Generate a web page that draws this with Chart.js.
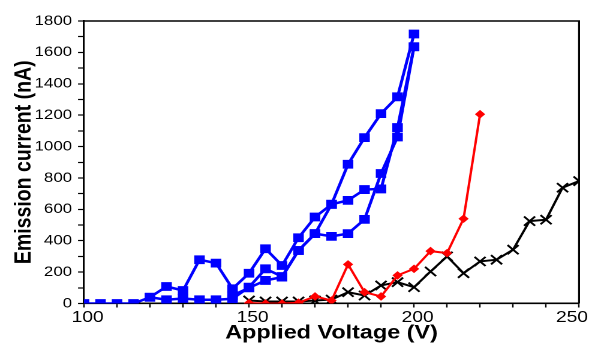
<!DOCTYPE html>
<html>
<head>
<meta charset="utf-8">
<script src="https://cdn.jsdelivr.net/npm/chart.js@4"></script>
<style>
	body { margin: 0; background: #fff; }
</style>
</head>
<body>
<!-- the source picture is stretched sideways by about 1.2, so the chart is drawn
     on a narrower canvas and widened by the inline style -->
<canvas id="emission_chart" width="491" height="346" style="display:block;width:589px;height:346px"></canvas>
<script>
// three blue sweeps (squares)
const blue_voltage_1 = [100, 105, 110, 115, 120, 125, 130, 135, 140, 145, 150, 155, 160, 165, 170, 175, 180, 185, 190, 195, 200]
const blue_current_1 = [0, 0, 0, 0, 40, 108, 83, 279, 257, 94, 193, 349, 242, 419, 551, 632, 657, 726, 730, 1121, 1636]
const blue_voltage_2 = [120, 125, 130, 135, 140, 145, 150, 155, 160, 165, 170, 175, 180, 185, 190, 195, 200]
const blue_current_2 = [40, 24, 32, 24, 24, 30, 104, 221, 172, 338, 445, 632, 887, 1057, 1210, 1317, 1717]
const blue_voltage_3 = [145, 150, 155, 160, 165, 170, 175, 180, 185, 190, 195, 200]
const blue_current_3 = [51, 100, 147, 168, 338, 445, 428, 445, 536, 828, 1061, 1636]

// red (diamonds)
const red_voltage = [150, 155, 160, 165, 170, 175, 180, 185, 190, 195, 200, 205, 210, 215, 220]
const red_current = [3, 0, 0, 5, 45, 19, 249, 72, 45, 179, 221, 334, 321, 540, 1206]

// black (crosses)
const black_voltage = [150, 155, 160, 165, 170, 175, 180, 185, 190, 195, 200, 205, 210, 215, 220, 225, 230, 235, 240, 245, 250]
const black_current = [19, 13, 13, 13, 19, 25, 72, 51, 115, 136, 104, 204, 300, 193, 268, 279, 343, 525, 534, 738, 780]

const x_labels = [100, 150, 200, 250]
const y_labels = [0, 200, 400, 600, 800, 1000, 1200, 1400, 1600, 1800]

const font_family = "'Liberation Sans', Arial, sans-serif"

function to_points(xs, ys) {
	return xs.map((x, i) => ({ x: x, y: ys[i] }))
}

function blue_set(xs, ys) {
	return {
		data: to_points(xs, ys),
		borderColor: '#0000ff',
		backgroundColor: '#0000ff',
		borderWidth: 2.5,
		pointStyle: 'rect',
		pointRadius: 6.2,
		pointBorderWidth: 0,
	}
}

// top and right edge of the box
const frame_plugin = {
	id: 'frame',
	afterDraw(chart) {
		const { ctx, chartArea } = chart
		ctx.save()
		ctx.strokeStyle = '#000'
		ctx.lineWidth = 1.6
		ctx.beginPath()
		ctx.moveTo(chartArea.left, chartArea.top)
		ctx.lineTo(chartArea.right, chartArea.top)
		ctx.lineTo(chartArea.right, chartArea.bottom)
		ctx.stroke()
		ctx.restore()
	},
}

// eslint-disable-next-line
const emission_chart = new Chart(document.getElementById('emission_chart'), {
	type: 'line',
	data: {
		datasets: [
			blue_set(blue_voltage_1, blue_current_1),
			blue_set(blue_voltage_2, blue_current_2),
			blue_set(blue_voltage_3, blue_current_3),
			{
				data: to_points(red_voltage, red_current),
				borderColor: '#ff0000',
				backgroundColor: '#ff0000',
				borderWidth: 2,
				pointStyle: 'rectRot',
				pointRadius: 4.3,
				pointBorderWidth: 0,
			},
			{
				data: to_points(black_voltage, black_current),
				borderColor: '#000',
				backgroundColor: '#000',
				borderWidth: 2,
				pointStyle: 'crossRot',
				pointRadius: 6.5,
				pointBorderWidth: 1.8,
			},
		],
	},
	options: {
		responsive: false,
		animation: false,
		devicePixelRatio: 2,
		layout: { padding: { top: 21, left: 10.4, right: 5.6, bottom: 0 } },
		plugins: {
			legend: { display: false },
			tooltip: { enabled: false },
		},
		scales: {
			x: {
				type: 'linear',
				min: 100,
				max: 250,
				afterFit(scale) {
					scale.paddingLeft = 0
					scale.paddingRight = 0
				},
				border: { color: '#000', width: 1.6 },
				grid: { drawOnChartArea: false, color: '#000', tickLength: 4, tickWidth: 1.2 },
				ticks: {
					stepSize: 10,
					autoSkip: false,
					maxRotation: 0,
					padding: 2,
					labelOffset: 3,
					color: '#000',
					font: { family: font_family, size: 16, lineHeight: 1 },
					callback: (v) => {
						if (!x_labels.includes(v)) return ''
						// last label is pulled inside the picture, as in the source
						return v === 250 ? '250    ' : String(v)
					},
				},
				title: {
					display: true,
					text: 'Applied Voltage (V)',
					color: '#000',
					padding: { top: -4, bottom: 3 },
					font: { family: font_family, size: 19.5, weight: 'bold', lineHeight: 1 },
				},
			},
			y: {
				min: 0,
				max: 1800,
				border: { color: '#000', width: 1.6 },
				grid: { drawOnChartArea: false, color: '#000', tickLength: 5, tickWidth: 1.2 },
				ticks: {
					stepSize: 100,
					autoSkip: false,
					padding: 5,
					color: '#000',
					font: { family: font_family, size: 14, lineHeight: 1.2 },
					callback: (v) => (y_labels.includes(v) ? String(v) : ''),
				},
				title: {
					display: true,
					text: 'Emission current (nA)',
					color: '#000',
					padding: { top: 0, bottom: -6 },
					font: { family: font_family, size: 19.5, weight: 'bold', lineHeight: 1 },
				},
			},
		},
	},
	plugins: [frame_plugin],
})
</script>
</body>
</html>
